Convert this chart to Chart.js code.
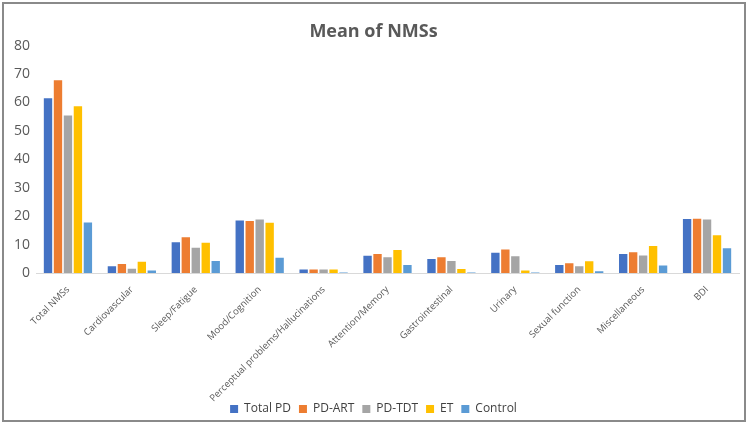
<!DOCTYPE html>
<html>
<head>
<meta charset="utf-8">
<script src="https://cdn.jsdelivr.net/npm/chart.js@4"></script>
<style>
  html, body { margin: 0; padding: 0; background: #fff; }
  #frame { position: absolute; left: 2px; top: 2px; width: 744px; height: 420px; border: 2px solid #8a8a8a; box-sizing: border-box; background:#fff; }
  #wrap { position: absolute; left: 0; top: 0; width: 740px; height: 416px; }
</style>
</head>
<body>
<div id="frame"><div id="wrap"><canvas id="c"></canvas></div></div>
<script>
const categories = ["Total NMSs", "Cardiovascular", "Sleep/Fatigue", "Mood/Cognition", "Perceptual problems/Hallucinations", "Attention/Memory", "Gastrointestinal", "Urinary", "Sexual function", "Miscellaneous", "BDI"];
const totalPD = [61.5, 2.4, 10.8, 18.5, 1.2, 6.1, 4.9, 7.1, 2.8, 6.7, 19.0];
const pdART   = [67.8, 3.2, 12.6, 18.3, 1.2, 6.7, 5.5, 8.3, 3.4, 7.3, 19.1];
const pdTDT   = [55.4, 1.5, 8.9, 18.8, 1.2, 5.5, 4.2, 5.9, 2.4, 6.2, 18.8];
const et      = [58.7, 4.0, 10.6, 17.7, 1.2, 8.1, 1.4, 0.9, 4.1, 9.5, 13.3];
const control = [17.8, 0.9, 4.2, 5.4, 0.2, 2.8, 0.2, 0.2, 0.6, 2.6, 8.7];
const seriesNames = ["Total PD", "PD-ART", "PD-TDT", "ET", "Control"];
const seriesColors = ["#4472C4", "#ED7D31", "#A5A5A5", "#FFC000", "#5B9BD5"];
const yTicks = [0, 10, 20, 30, 40, 50, 60, 70, 80];

const seriesData = [totalPD, pdART, pdTDT, et, control];
const datasets = seriesNames.map((n, i) => ({
  label: n,
  data: seriesData[i],
  backgroundColor: seriesColors[i],
  borderWidth: 0,
  categoryPercentage: 0.78,
  barPercentage: 0.84
}));

const txt = "#595959";
const fam = "'Open Sans', 'Liberation Sans', sans-serif";
new Chart(document.getElementById("c"), {
  type: "bar",
  data: { labels: categories, datasets },
  options: {
    responsive: true,
    maintainAspectRatio: false,
    animation: false,
    layout: { padding: { left: 4, right: 5, top: 0, bottom: -5 } },
    plugins: {
      title: {
        display: true,
        text: "Mean of NMSs",
        color: txt,
        font: { family: fam, size: 18, weight: "bold" },
        padding: { top: 17, bottom: 3 }
      },
      legend: {
        position: "bottom",
        labels: {
          color: "#404040",
          font: { family: fam, size: 12 },
          boxWidth: 8, boxHeight: 8, padding: 8
        }
      },
      tooltip: { enabled: false }
    },
    scales: {
      x: {
        afterFit: (s) => { s.height = 122; s._computeLabelArea = () => undefined; },
        grid: { display: false, drawTicks: false },
        border: { display: true, color: "#D9D9D9", width: 1 },
        ticks: {
          color: txt,
          font: { family: fam, size: 9.5 },
          minRotation: 45, maxRotation: 45, autoSkip: false, padding: 11
        }
      },
      y: {
        min: 0, max: 80,
        afterBuildTicks: (s) => { s.ticks = yTicks.map(v => ({ value: v })); },
        afterFit: (s) => { s.width = 28; },
        grid: { display: false, drawTicks: false },
        border: { display: false },
        ticks: {
          color: txt,
          font: { family: fam, size: 14 },
          padding: 6
        }
      }
    }
  }
});
</script>
</body>
</html>
